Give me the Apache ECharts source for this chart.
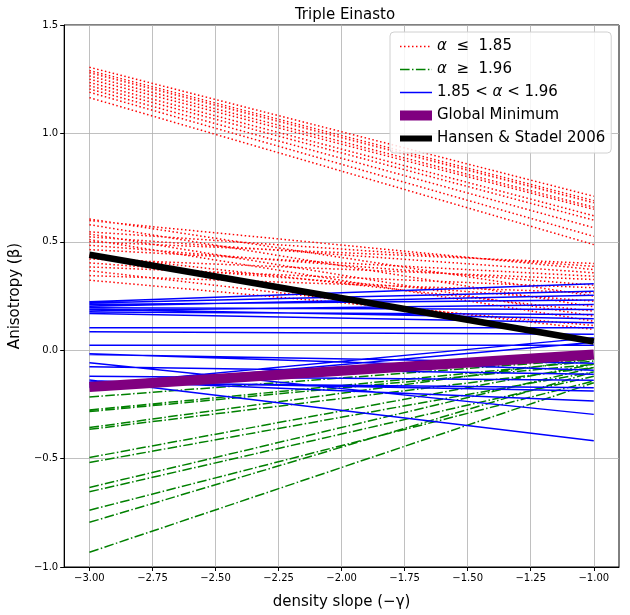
<!DOCTYPE html>
<html>
<head>
<meta charset="utf-8">
<script src="https://cdn.jsdelivr.net/npm/echarts@6/dist/echarts.min.js"></script>
<style>
html,body{margin:0;padding:0;background:#fff;}
#chart{width:630px;height:615px;}
</style>
</head>
<body>
<div id="chart"></div>
<script>
// density slope endpoints of every line
const slopeStart = -3.0;
const slopeEnd = -1.0;

// alpha <= 1.85 (red dotted): beta at slope -3 and at slope -1
const redStartBeta = [1.305, 1.29, 1.28, 1.265, 1.25, 1.235, 1.22, 1.205, 1.19, 1.165,
  0.605, 0.598, 0.579, 0.546, 0.536, 0.523, 0.510, 0.500, 0.484, 0.464, 0.438, 0.421, 0.403, 0.384, 0.367, 0.344, 0.323];
const redEndBeta = [0.71, 0.69, 0.68, 0.66, 0.65, 0.62, 0.60, 0.565, 0.525, 0.487,
  0.25, 0.372, 0.20, 0.387, 0.157, 0.357, 0.134, 0.40, 0.30, 0.341, 0.18, 0.326, 0.226, 0.288, 0.096, 0.265, 0.114];

// alpha >= 1.96 (green dash-dot)
const greenStartBeta = [-0.216, -0.276, -0.283, -0.357, -0.365, -0.495, -0.518, -0.633, -0.653, -0.738, -0.794, -0.932];
const greenEndBeta = [-0.04, -0.05, -0.065, -0.04, -0.08, -0.065, -0.10, -0.08, -0.12, -0.142, -0.10, -0.15];

// 1.85 < alpha < 1.96 (blue solid)
const blueStartBeta = [0.223, 0.218, 0.211, 0.203, 0.196, 0.189, 0.183, 0.176, 0.169, 0.104, 0.085, 0.023,
  -0.016, -0.058, -0.076, -0.138, -0.15, -0.14, -0.12, -0.02, -0.145, -0.16, -0.17];
const blueEndBeta = [0.306, 0.272, 0.231, 0.254, 0.188, 0.145, 0.211, 0.165, 0.127, 0.104, 0.073, 0.023,
  -0.092, -0.296, -0.111, -0.418, -0.173, -0.234, -0.139, -0.06, -0.188, 0.058, 0.037];

// Global minimum and Hansen & Stadel 2006
const globalMinBeta = [-0.17, -0.02];
const hansenBeta = [0.44, 0.04];

// tick labels
const xTicks = [-3.0, -2.75, -2.5, -2.25, -2.0, -1.75, -1.5, -1.25, -1.0];
const yTicks = [-1.0, -0.5, 0.0, 0.5, 1.0, 1.5];

function segs(starts, ends) {
  const d = [];
  for (let i = 0; i < starts.length; i++) {
    d.push([slopeStart, starts[i]]);
    d.push([slopeEnd, ends[i]]);
    if (i < starts.length - 1) d.push([slopeEnd, '-']);
  }
  return d;
}
const fmtMinus = s => s.replace('-', '\u2212');
const FONT = 'DejaVu Sans';
const hideSym = {opacity: 0};

const chart = echarts.init(document.getElementById('chart'), null, {renderer: 'canvas'});
const option = {
  animation: false,
  backgroundColor: '#fff',
  title: {
    text: 'Triple Einasto',
    left: 340, top: 3, textAlign: 'center',
    textStyle: {fontFamily: FONT, fontSize: 15, fontWeight: 'normal', color: '#000'}
  },
  grid: {left: 62, right: 11, top: 25, bottom: 47, show: true, borderColor: '#000', borderWidth: 1, backgroundColor: 'transparent'},
  legend: {
    orient: 'vertical', left: 390, top: 32,
    backgroundColor: 'rgba(255,255,255,0.85)', borderColor: '#d0d0d0', borderWidth: 1, borderRadius: 4,
    padding: [7, 6, 7, 5], itemWidth: 32, itemHeight: 10, itemGap: 8,
    itemStyle: hideSym,
    textStyle: {fontFamily: FONT, fontSize: 15, color: '#000',
      rich: {i: {fontFamily: FONT, fontSize: 15, fontStyle: 'italic', color: '#000'}}},
    formatter: function (name) {
      if (name === 'a1') return '{i|α}  ≤  1.85';
      if (name === 'a2') return '{i|α}  ≥  1.96';
      if (name === 'a3') return '1.85 < {i|α} < 1.96';
      return name;
    },
    data: [
      {name: 'a1', lineStyle: {width: 1.5}, itemStyle: hideSym},
      {name: 'a2', lineStyle: {width: 1.5}, itemStyle: hideSym},
      {name: 'a3', lineStyle: {width: 1.5}, itemStyle: hideSym},
      {name: 'Global Minimum', lineStyle: {width: 10}, itemStyle: hideSym},
      {name: 'Hansen & Stadel 2006', lineStyle: {width: 6}, itemStyle: hideSym}
    ]
  },
  xAxis: {
    type: 'value', min: -3.1, max: -0.9,
    axisLine: {show: true, onZero: false, lineStyle: {color: '#000', width: 1}},
    axisTick: {show: true, length: 4, lineStyle: {color: '#000'}, customValues: xTicks},
    axisLabel: {customValues: xTicks, fontFamily: FONT, fontSize: 10, color: '#000', margin: 6,
      formatter: v => fmtMinus(v.toFixed(2))},
    splitLine: {show: true, lineStyle: {color: '#b0b0b0', width: 0.8}},
    name: 'density slope (\u2212\u03b3)', nameLocation: 'middle', nameGap: 28,
    nameTextStyle: {fontFamily: FONT, fontSize: 15, color: '#000'}
  },
  yAxis: {
    type: 'value', min: -1.0, max: 1.5, interval: 0.5,
    axisLine: {show: true, onZero: false, lineStyle: {color: '#000', width: 1}},
    axisTick: {show: true, length: 4, lineStyle: {color: '#000'}},
    axisLabel: {fontFamily: FONT, fontSize: 10, color: '#000', margin: 6,
      formatter: v => fmtMinus(v.toFixed(1))},
    splitLine: {show: true, lineStyle: {color: '#b0b0b0', width: 0.8}},
    name: 'Anisotropy (\u03b2)', nameLocation: 'middle', nameGap: 37,
    nameTextStyle: {fontFamily: FONT, fontSize: 15, color: '#000'}
  },
  series: [
    {name: 'a1', type: 'line', symbol: 'none', connectNulls: false, data: segs(redStartBeta, redEndBeta),
      lineStyle: {color: '#ff0000', width: 1.5, type: [1.5, 2.5]}, itemStyle: {color: '#ff0000'}, z: 2},
    {name: 'a2', type: 'line', symbol: 'none', connectNulls: false, data: segs(greenStartBeta, greenEndBeta),
      lineStyle: {color: '#008000', width: 1.5, type: [9.6, 2.4, 1.5, 2.4]}, itemStyle: {color: '#008000'}, z: 2},
    {name: 'a3', type: 'line', symbol: 'none', connectNulls: false, data: segs(blueStartBeta, blueEndBeta),
      lineStyle: {color: '#0000ff', width: 1.5}, itemStyle: {color: '#0000ff'}, z: 2},
    {name: 'Global Minimum', type: 'line', symbol: 'none', data: segs([globalMinBeta[0]], [globalMinBeta[1]]),
      lineStyle: {color: '#800080', width: 10, cap: 'butt'}, itemStyle: {color: '#800080'}, z: 3},
    {name: 'Hansen & Stadel 2006', type: 'line', symbol: 'none', data: segs([hansenBeta[0]], [hansenBeta[1]]),
      lineStyle: {color: '#000000', width: 6.5, cap: 'butt'}, itemStyle: {color: '#000'}, z: 4}
  ]
};
chart.setOption(option);
</script>
</body>
</html>
